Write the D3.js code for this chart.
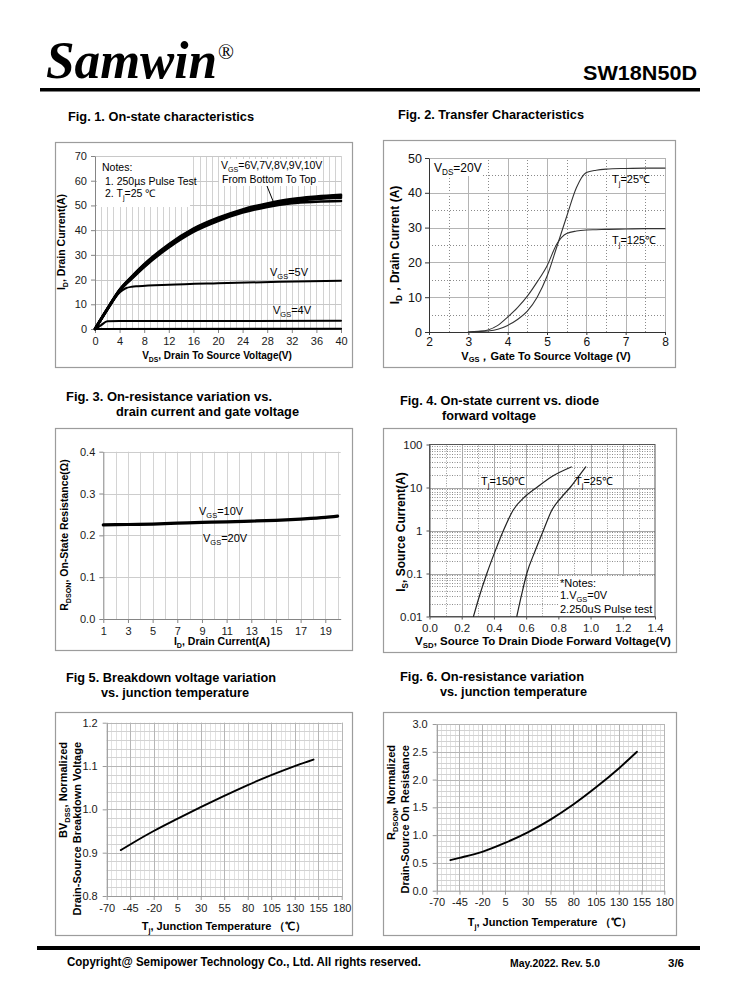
<!DOCTYPE html>
<html><head><meta charset="utf-8">
<script src="https://cdn.jsdelivr.net/npm/d3@7"></script>
<style>
body{margin:0;background:#fff}
svg{display:block}
svg{font-family:"Liberation Sans",Arial,sans-serif}
</style></head><body>
<svg id="c" width="738" height="1000"></svg>
<script>
// ---------- DATA ----------
// Fig 1: On-state characteristics (I_D vs V_DS)
const fig1Vds = [0, 2, 4, 6, 8, 12, 16, 20, 24, 28, 32, 36, 40];
const fig1Vgs10 = [0, 8.2, 15.9, 21.3, 26.2, 34.3, 40.6, 45.0, 48.4, 50.8, 52.6, 53.6, 54.3];
const fig1Vgs9  = [0, 8.1, 15.8, 21.1, 26.0, 34.0, 40.3, 44.7, 48.1, 50.5, 52.3, 53.3, 54.0];
const fig1Vgs8  = [0, 8.0, 15.7, 20.9, 25.7, 33.7, 40.0, 44.4, 47.8, 50.2, 52.0, 53.0, 53.6];
const fig1Vgs7  = [0, 8.0, 15.6, 20.7, 25.4, 33.4, 39.7, 44.1, 47.5, 49.9, 51.6, 52.6, 53.1];
const fig1Vgs6  = [0, 7.9, 15.4, 20.4, 25.1, 33.0, 39.3, 43.7, 47.1, 49.4, 50.9, 51.5, 51.8];
const fig1Vgs5X = [0, 2, 4, 5, 6, 7, 12, 20, 30, 40];
const fig1Vgs5  = [0, 7.8, 14.8, 16.5, 17.1, 17.3, 17.9, 18.5, 19.1, 19.5];
const fig1Vgs4X = [0, 1, 2, 4, 20, 40];
const fig1Vgs4  = [0, 1.6, 3.1, 3.2, 3.2, 3.3];
const fig1Vgs3X = [0, 40];
const fig1Vgs3  = [0, 0.1];
const fig1XTicks = [0, 4, 8, 12, 16, 20, 24, 28, 32, 36, 40];
const fig1YTicks = [0, 10, 20, 30, 40, 50, 60, 70];

// Fig 2: Transfer characteristics
const fig2Vgs   = [3.0, 3.25, 3.5, 3.75, 4.0, 4.25, 4.5, 4.75, 5.0, 5.25, 5.5, 5.75, 6.0, 6.25, 6.5, 7.0, 7.5, 8.0];
const fig2Tj25  = [0, 0.1, 0.3, 0.8, 1.9, 3.6, 6.0, 10.0, 16.0, 24.5, 33.2, 41.5, 45.8, 46.5, 46.8, 47.0, 47.1, 47.1];
const fig2Tj125 = [0, 0.2, 0.6, 1.9, 4.3, 7.0, 10.3, 14.4, 19.0, 25.3, 28.3, 29.0, 29.3, 29.4, 29.5, 29.6, 29.7, 29.7];
const fig2XTicks = [2, 3, 4, 5, 6, 7, 8];
const fig2YTicks = [0, 10, 20, 30, 40, 50];

// Fig 3: On-resistance vs drain current
const fig3Id = [1, 3, 5, 7, 9, 11, 13, 15, 17, 19, 20];
const fig3R  = [0.225, 0.226, 0.227, 0.229, 0.231, 0.232, 0.234, 0.236, 0.239, 0.243, 0.246];
const fig3XTicks = [1, 3, 5, 7, 9, 11, 13, 15, 17, 19];
const fig3YTicks = [0, 0.1, 0.2, 0.3, 0.4];

// Fig 4: Diode forward voltage
const fig4Vsd150 = [0.273, 0.31, 0.356, 0.41, 0.459, 0.52, 0.59, 0.666, 0.76, 0.88];
const fig4Is150  = [0.01, 0.03, 0.1, 0.35, 1, 3, 6, 10, 18, 30];
const fig4Vsd25  = [0.542, 0.57, 0.604, 0.655, 0.707, 0.76, 0.82, 0.873, 0.92, 0.97];
const fig4Is25   = [0.01, 0.03, 0.1, 0.33, 1, 3, 6, 10, 17, 30];
const fig4XTicks = [0, 0.2, 0.4, 0.6, 0.8, 1.0, 1.2, 1.4];
const fig4YTicks = [0.01, 0.1, 1, 10, 100];
const fig4YLabels = ["0.01", "0.1", "1", "10", "100"];

// Fig 5: Breakdown voltage vs temperature
const fig5T  = [-55, -45, -20, 5, 30, 55, 80, 105, 130, 150];
const fig5BV = [0.906, 0.919, 0.950, 0.978, 1.005, 1.031, 1.056, 1.079, 1.100, 1.115];
const fig5XTicks = [-70, -45, -20, 5, 30, 55, 80, 105, 130, 155, 180];
const fig5YTicks = [0.8, 0.9, 1.0, 1.1, 1.2];

// Fig 6: On-resistance vs temperature
const fig6T = [-55, -45, -20, 5, 30, 55, 80, 105, 130, 150];
const fig6R = [0.55, 0.59, 0.70, 0.86, 1.05, 1.28, 1.55, 1.86, 2.20, 2.50];
const fig6XTicks = [-70, -45, -20, 5, 30, 55, 80, 105, 130, 155, 180];
const fig6YTicks = [0, 0.5, 1.0, 1.5, 2.0, 2.5, 3.0];

// ---------- HELPERS ----------
const svg = d3.select('#c');
const FONT = '"Liberation Sans",Arial,sans-serif';
const SERIF = '"Liberation Serif","Times New Roman",serif';
const SUB = 0.26;

function frame(x, y, w, h) {
  svg.append('rect').attr('x', x + 0.5).attr('y', y + 0.5).attr('width', w).attr('height', h)
    .attr('fill', 'none').attr('stroke', '#9c9c9c').attr('stroke-width', 1.2);
}
function plain(x, y, str, o = {}) {
  const t = svg.append('text').attr('x', x).attr('y', y).text(str)
    .attr('font-size', o.size || 11).attr('font-weight', o.bold ? 'bold' : 'normal')
    .attr('text-anchor', o.anchor || 'start').attr('fill', o.fill || '#000');
  if (o.family) t.style('font-family', o.family);
  if (o.style) t.style('font-style', o.style);
  if (o.len) t.attr('textLength', o.len).attr('lengthAdjust', 'spacingAndGlyphs');
  return t;
}
function rich(x, y, segs, o = {}) {
  const size = o.size || 11;
  const t = svg.append('text')
    .attr('transform', `translate(${x},${y})` + (o.rot ? ` rotate(${o.rot})` : ''))
    .attr('font-size', size).attr('font-weight', o.bold ? 'bold' : 'normal')
    .attr('text-anchor', o.anchor || 'start').attr('fill', o.fill || '#000');
  let shifted = 0;
  segs.forEach(s => {
    const isSub = typeof s !== 'string';
    const ts = t.append('tspan').text(isSub ? s.sub : s);
    const target = isSub ? size * SUB : 0;
    if (target !== shifted) { ts.attr('dy', target - shifted); shifted = target; }
    if (isSub) ts.attr('font-size', size * 0.68);
  });
  return t;
}
function styleAxis(a, o = {}) {
  a.attr('font-family', FONT).attr('font-size', o.fs || 11);
  a.selectAll('text').attr('fill', o.tc || '#1a1a1a');
  a.select('.domain').attr('stroke', o.dom || '#858585').attr('stroke-width', o.dw || 1);
  a.selectAll('.tick line').attr('stroke', o.dom || '#858585');
  return a;
}
function vgrid(sx, sy, vals, color, dash, w) {
  svg.append('g').selectAll('line').data(vals).join('line')
    .attr('x1', d => Math.round(sx(d)) + 0.5).attr('x2', d => Math.round(sx(d)) + 0.5)
    .attr('y1', sy.range()[0]).attr('y2', sy.range()[1])
    .attr('stroke', color).attr('stroke-width', w || 1).attr('stroke-dasharray', dash || null);
}
function hgrid(sx, sy, vals, color, dash, w) {
  svg.append('g').selectAll('line').data(vals).join('line')
    .attr('y1', d => Math.round(sy(d)) + 0.5).attr('y2', d => Math.round(sy(d)) + 0.5)
    .attr('x1', sx.range()[0]).attr('x2', sx.range()[1])
    .attr('stroke', color).attr('stroke-width', w || 1).attr('stroke-dasharray', dash || null);
}
function curve(sx, sy, xs, ys, w, color, c) {
  const pts = xs.map((x, i) => [x, ys[i]]);
  svg.append('path').datum(pts)
    .attr('d', d3.line().x(d => sx(d[0])).y(d => sy(d[1])).curve(c || d3.curveMonotoneX))
    .attr('fill', 'none').attr('stroke', color || '#000').attr('stroke-width', w)
    .attr('stroke-linejoin', 'round').attr('stroke-linecap', 'round');
}
const intFmt = d => String(d);

// ---------- HEADER ----------
plain(46, 78, 'Samwin', { size: 52, bold: true, style: 'italic', family: SERIF, len: 171 });
plain(218, 59, '®', { size: 21, family: SERIF });
plain(697, 80, 'SW18N50D', { size: 21, bold: true, anchor: 'end', len: 114 });
svg.append('rect').attr('x', 40).attr('y', 88).attr('width', 660).attr('height', 3.5).attr('fill', '#000');

// ---------- TITLES ----------
plain(68, 121, 'Fig. 1. On-state characteristics', { size: 12.5, bold: true, len: 186 });
plain(398, 119, 'Fig. 2. Transfer Characteristics', { size: 12.5, bold: true, len: 186 });
plain(66, 401, 'Fig. 3. On-resistance variation vs.', { size: 12.5, bold: true, len: 206 });
plain(116, 416, 'drain current and gate voltage', { size: 12.5, bold: true, len: 183 });
plain(400, 405, 'Fig. 4. On-state current vs. diode', { size: 12.5, bold: true, len: 199 });
plain(442, 420, 'forward voltage', { size: 12.5, bold: true, len: 94 });
plain(66, 682, 'Fig 5. Breakdown voltage variation', { size: 12.5, bold: true, len: 210 });
plain(101, 697, 'vs. junction temperature', { size: 12.5, bold: true, len: 148 });
plain(400, 681, 'Fig. 6. On-resistance variation', { size: 12.5, bold: true, len: 184 });
plain(440, 696, 'vs. junction temperature', { size: 12.5, bold: true, len: 147 });

// ---------- FIG 1 ----------
frame(55, 142, 297, 225);
{
  const x = d3.scaleLinear([0, 40], [95, 341]);
  const y = d3.scaleLinear([0, 70], [329, 156]);
  vgrid(x, y, d3.range(1, 41, 1), '#d2d2d2');
  hgrid(x, y, d3.range(10, 71, 10), '#c8c8c8');
  svg.append('rect').attr('x', 97).attr('y', 157).attr('width', 93).attr('height', 50).attr('fill', '#fff');
  svg.append('rect').attr('x', 219).attr('y', 159).attr('width', 99).attr('height', 27).attr('fill', '#fff');
  styleAxis(svg.append('g').attr('transform', 'translate(95,0)')
    .call(d3.axisLeft(y).tickValues(fig1YTicks).tickFormat(intFmt).tickSize(4).tickPadding(4).tickSizeOuter(0)), { fs: 11 });
  styleAxis(svg.append('g').attr('transform', 'translate(0,329)')
    .call(d3.axisBottom(x).tickValues(fig1XTicks).tickFormat(intFmt).tickSize(4).tickPadding(4).tickSizeOuter(0)), { fs: 11 });
  curve(x, y, fig1Vgs3X, fig1Vgs3, 2.2);
  curve(x, y, fig1Vgs4X, fig1Vgs4, 2);
  curve(x, y, fig1Vgs5X, fig1Vgs5, 2);
  [fig1Vgs6, fig1Vgs7, fig1Vgs8, fig1Vgs9, fig1Vgs10].forEach(s => curve(x, y, fig1Vds, s, 2.6));
  plain(102, 171, 'Notes:', { size: 10.5 });
  plain(105, 185, '1. 250µs  Pulse Test', { size: 10.5 });
  rich(105, 197, ['2. T', { sub: 'j' }, '=25 ℃'], { size: 10.5 });
  rich(221, 169, ['V', { sub: 'GS' }, '=6V,7V,8V,9V,10V'], { size: 10.5 });
  plain(222, 183, 'From Bottom To Top', { size: 10.5 });
  svg.append('line').attr('x1', 267).attr('y1', 186).attr('x2', 273).attr('y2', 201).attr('stroke', '#000');
  rich(270, 276, ['V', { sub: 'GS' }, '=5V'], { size: 11 });
  rich(273, 314, ['V', { sub: 'GS' }, '=4V'], { size: 11 });
  rich(65, 242, ['I', { sub: 'D' }, ',  Drain Current(A)'], { size: 10.5, bold: true, rot: -90, anchor: 'middle' });
  rich(217, 359, ['V', { sub: 'DS' }, ', Drain To Source Voltage(V)'], { size: 10, bold: true, anchor: 'middle' });
}

// ---------- FIG 2 ----------
frame(383, 140, 292, 227);
{
  const x = d3.scaleLinear([2, 8], [429, 665]);
  const y = d3.scaleLinear([0, 50], [332, 158]);
  vgrid(x, y, d3.range(2.5, 8, 1), '#8a8a8a', '1,2');
  hgrid(x, y, d3.range(5, 50, 10), '#8a8a8a', '1,2');
  vgrid(x, y, d3.range(3, 9, 1), '#b4b4b4');
  hgrid(x, y, d3.range(10, 51, 10), '#b4b4b4');
  svg.append('rect').attr('x', 431).attr('y', 159).attr('width', 52).attr('height', 17).attr('fill', '#fff');
  styleAxis(svg.append('g').attr('transform', 'translate(429,0)')
    .call(d3.axisLeft(y).tickValues(fig2YTicks).tickFormat(intFmt).tickSize(4).tickPadding(3).tickSizeOuter(0)),
    { fs: 12.5, dom: '#333', tc: '#111' });
  styleAxis(svg.append('g').attr('transform', 'translate(0,332)')
    .call(d3.axisBottom(x).tickValues(fig2XTicks).tickFormat(intFmt).tickSize(3).tickPadding(2).tickSizeOuter(0)),
    { fs: 12, dom: '#333', tc: '#111' });
  curve(x, y, fig2Vgs, fig2Tj25, 1.1, '#333');
  curve(x, y, fig2Vgs, fig2Tj125, 1.1, '#333');
  rich(434, 172, ['V', { sub: 'DS' }, '=20V'], { size: 12 });
  rich(612, 183, ['T', { sub: 'j' }, '=25℃'], { size: 11 });
  rich(612, 244, ['T', { sub: 'j' }, '=125℃'], { size: 11 });
  rich(399, 245, ['I', { sub: 'D' }, '，Drain Current (A)'], { size: 12, bold: true, rot: -90, anchor: 'middle' });
  rich(546, 359.5, ['V', { sub: 'GS' }, '，Gate To Source Voltage (V)'], { size: 11, bold: true, anchor: 'middle' });
}

// ---------- FIG 3 ----------
frame(55, 428, 297, 222);
{
  const x = d3.scaleLinear([1, 20.25], [103.3, 340.7]);
  const y = d3.scaleLinear([0, 0.4], [619, 451.7]);
  vgrid(x, y, d3.range(2, 21, 1), '#d4d4d4');
  hgrid(x, y, [0.1, 0.2, 0.3, 0.4], '#cdcdcd');
  styleAxis(svg.append('g').attr('transform', 'translate(103.3,0)')
    .call(d3.axisLeft(y).tickValues(fig3YTicks).tickFormat(d3.format('.1f')).tickSize(4).tickPadding(4).tickSizeOuter(0)), { fs: 11 });
  styleAxis(svg.append('g').attr('transform', 'translate(0,619)')
    .call(d3.axisBottom(x).tickValues(fig3XTicks).tickFormat(intFmt).tickSize(4).tickPadding(4).tickSizeOuter(0)), { fs: 11 });
  curve(x, y, fig3Id, fig3R, 3.2);
  rich(199, 515, ['V', { sub: 'GS' }, '=10V'], { size: 11 });
  rich(203, 542, ['V', { sub: 'GS' }, '=20V'], { size: 11 });
  rich(68, 535, ['R', { sub: 'DSON' }, ', On-State Resistance(Ω)'], { size: 10.5, bold: true, rot: -90, anchor: 'middle' });
  rich(222, 645, ['I', { sub: 'D' }, ', Drain Current(A)'], { size: 10.5, bold: true, anchor: 'middle' });
}

// ---------- FIG 4 ----------
frame(383, 428, 293, 224);
{
  const x = d3.scaleLinear([0, 1.4], [429.5, 655]);
  const y = d3.scaleLog([0.01, 100], [616.5, 444.5]);
  const minor = [];
  [0.01, 0.1, 1, 10].forEach(d => { for (let k = 2; k <= 9; k++) minor.push(d * k); });
  hgrid(x, y, minor, '#8c8c8c', '1,1.5');
  vgrid(x, y, [0.1, 0.3, 0.5, 0.7, 0.9, 1.1, 1.3], '#9a9a9a', '1,1.5');
  vgrid(x, y, [0.2, 0.4, 0.6, 0.8, 1.0, 1.2], '#a8a8a8');
  hgrid(x, y, [0.1, 1, 10], '#a8a8a8');
  svg.append('rect').attr('x', 558).attr('y', 576).attr('width', 97).attr('height', 40).attr('fill', '#fff');
  svg.append('rect').attr('x', 429.5).attr('y', 444.5).attr('width', 225.5).attr('height', 172)
    .attr('fill', 'none').attr('stroke', '#555');
  styleAxis(svg.append('g').attr('transform', 'translate(429.5,0)')
    .call(d3.axisLeft(y).tickValues(fig4YTicks).tickFormat((d, i) => fig4YLabels[i]).tickSize(3).tickPadding(4).tickSizeOuter(0)),
    { fs: 11.5, dom: '#555' });
  styleAxis(svg.append('g').attr('transform', 'translate(0,616.5)')
    .call(d3.axisBottom(x).tickValues(fig4XTicks).tickFormat(d3.format('.1f')).tickSize(3).tickPadding(4).tickSizeOuter(0)),
    { fs: 11.5, dom: '#555' });
  curve(x, y, fig4Vsd150, fig4Is150, 1.2, '#222');
  curve(x, y, fig4Vsd25, fig4Is25, 1.2, '#222');
  rich(481, 485, ['T', { sub: 'j' }, '=150℃'], { size: 11 });
  rich(575, 485, ['T', { sub: 'j' }, '=25℃'], { size: 11 });
  plain(560, 587, '*Notes:', { size: 11 });
  rich(560, 599, ['1.V', { sub: 'GS' }, '=0V'], { size: 11 });
  plain(560, 613, '2.250uS Pulse test', { size: 11 });
  rich(405, 532, ['I', { sub: 'S' }, ', Source Current(A)'], { size: 12, bold: true, rot: -90, anchor: 'middle' });
  rich(543, 645, ['V', { sub: 'SD' }, ', Source To Drain Diode Forward Voltage(V)'], { size: 11.5, bold: true, anchor: 'middle' });
}

// ---------- FIG 5 ----------
frame(55, 712, 297, 223);
{
  const x = d3.scaleLinear([-70, 180], [106.7, 341.7]);
  const y = d3.scaleLinear([0.8, 1.2], [896, 722.7]);
  vgrid(x, y, d3.range(-65, 181, 5), '#e2e2e2');
  hgrid(x, y, d3.range(0.82, 1.2, 0.02), '#d2d2d2');
  vgrid(x, y, fig5XTicks, '#b6b6b6');
  hgrid(x, y, fig5YTicks.slice(1), '#b6b6b6');
  styleAxis(svg.append('g').attr('transform', 'translate(106.7,0)')
    .call(d3.axisLeft(y).tickValues(fig5YTicks).tickFormat(d3.format('.1f')).tickSize(4).tickPadding(5).tickSizeOuter(0)),
    { fs: 11, dom: '#9a9a9a' });
  styleAxis(svg.append('g').attr('transform', 'translate(0,896)')
    .call(d3.axisBottom(x).tickValues(fig5XTicks).tickFormat(intFmt).tickSize(4).tickPadding(4).tickSizeOuter(0)),
    { fs: 11, dom: '#9a9a9a' });
  curve(x, y, fig5T, fig5BV, 1.9);
  rich(67, 742, ['BV', { sub: 'DSS' }, ', Normalized'], { size: 11, bold: true, rot: -90, anchor: 'end' });
  plain(0, 0, 'Drain-Source Breakdown Voltage', { size: 11, bold: true, anchor: 'end' })
    .attr('transform', 'translate(81,742) rotate(-90)').attr('x', null).attr('y', null);
  rich(224, 930, ['T', { sub: 'j' }, ', Junction Temperature （℃）'], { size: 11, bold: true, anchor: 'middle' });
}

// ---------- FIG 6 ----------
frame(383, 712, 293, 223);
{
  const x = d3.scaleLinear([-70, 180], [436.7, 664.3]);
  const y = d3.scaleLinear([0, 3], [890.7, 724]);
  vgrid(x, y, d3.range(-65, 181, 5), '#e2e2e2');
  hgrid(x, y, d3.range(0.1, 3.0, 0.1), '#d2d2d2');
  vgrid(x, y, fig6XTicks, '#b6b6b6');
  hgrid(x, y, fig6YTicks.slice(1), '#b6b6b6');
  styleAxis(svg.append('g').attr('transform', 'translate(436.7,0)')
    .call(d3.axisLeft(y).tickValues(fig6YTicks).tickFormat(d3.format('.1f')).tickSize(4).tickPadding(5).tickSizeOuter(0)),
    { fs: 11, dom: '#9a9a9a' });
  styleAxis(svg.append('g').attr('transform', 'translate(0,890.7)')
    .call(d3.axisBottom(x).tickValues(fig6XTicks).tickFormat(intFmt).tickSize(4).tickPadding(4).tickSizeOuter(0)),
    { fs: 11, dom: '#9a9a9a' });
  curve(x, y, fig6T, fig6R, 1.9);
  rich(395, 745, ['R', { sub: 'DSON' }, ', Normalized'], { size: 11, bold: true, rot: -90, anchor: 'end' });
  plain(0, 0, 'Drain-Source On Resistance', { size: 11, bold: true, anchor: 'end' })
    .attr('transform', 'translate(409,745) rotate(-90)').attr('x', null).attr('y', null);
  rich(550, 926, ['T', { sub: 'j' }, ', Junction Temperature （℃）'], { size: 11, bold: true, anchor: 'middle' });
}

// ---------- FOOTER ----------
svg.append('rect').attr('x', 37).attr('y', 946).attr('width', 663).attr('height', 4).attr('fill', '#000');
plain(67, 966, 'Copyright@ Semipower Technology Co., Ltd. All rights reserved.', { size: 12, bold: true, len: 354 });
plain(510, 967, 'May.2022. Rev. 5.0', { size: 11, bold: true, len: 90 });
plain(668, 967, '3/6', { size: 11, bold: true, len: 16 });
</script>
</body></html>
